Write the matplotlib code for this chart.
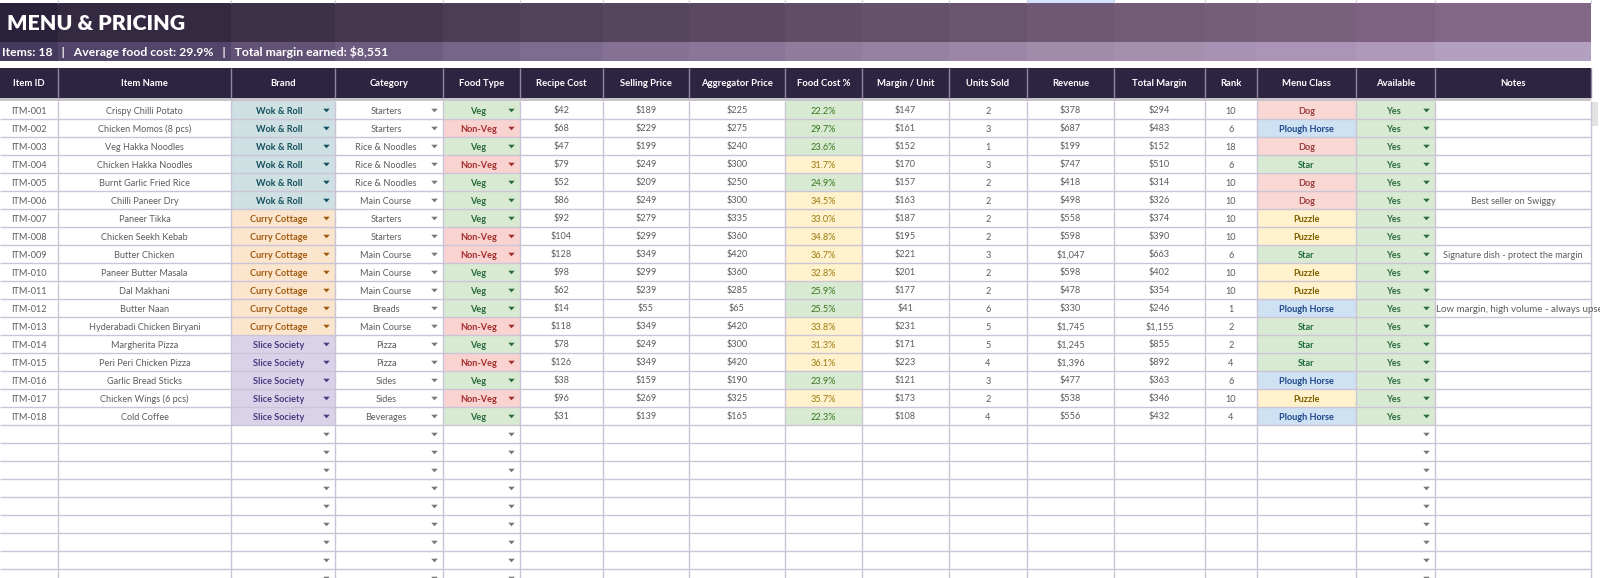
import matplotlib
matplotlib.use("Agg")
import matplotlib.pyplot as plt
from matplotlib.colors import LinearSegmentedColormap
from matplotlib.patches import Rectangle

plt.rcParams['font.family'] = ['Lato', 'DejaVu Sans']

headers = ["Item ID", "Item Name", "Brand", "Category", "Food Type", "Recipe Cost", "Selling Price",
           "Aggregator Price", "Food Cost %", "Margin / Unit", "Units Sold", "Revenue", "Total Margin",
           "Rank", "Menu Class", "Available", "Notes"]
item_names = ["Crispy Chilli Potato", "Chicken Momos (8 pcs)", "Veg Hakka Noodles", "Chicken Hakka Noodles",
              "Burnt Garlic Fried Rice", "Chilli Paneer Dry", "Paneer Tikka", "Chicken Seekh Kebab",
              "Butter Chicken", "Paneer Butter Masala", "Dal Makhani", "Butter Naan",
              "Hyderabadi Chicken Biryani", "Margherita Pizza", "Peri Peri Chicken Pizza",
              "Garlic Bread Sticks", "Chicken Wings (6 pcs)", "Cold Coffee"]
brands = ["Wok & Roll"] * 6 + ["Curry Cottage"] * 7 + ["Slice Society"] * 5
categories = ["Starters", "Starters", "Rice & Noodles", "Rice & Noodles", "Rice & Noodles", "Main Course",
              "Starters", "Starters", "Main Course", "Main Course", "Main Course", "Breads", "Main Course",
              "Pizza", "Pizza", "Sides", "Sides", "Beverages"]
food_types = ["Veg", "Non-Veg", "Veg", "Non-Veg", "Veg", "Veg", "Veg", "Non-Veg", "Non-Veg", "Veg", "Veg",
              "Veg", "Non-Veg", "Veg", "Non-Veg", "Veg", "Non-Veg", "Veg"]
recipe_cost = [42, 68, 47, 79, 52, 86, 92, 104, 128, 98, 62, 14, 118, 78, 126, 38, 96, 31]
selling_price = [189, 229, 199, 249, 209, 249, 279, 299, 349, 299, 239, 55, 349, 249, 349, 159, 269, 139]
aggregator_price = [225, 275, 240, 300, 250, 300, 335, 360, 420, 360, 285, 65, 420, 300, 420, 190, 325, 165]
food_cost = [22.2, 29.7, 23.6, 31.7, 24.9, 34.5, 33.0, 34.8, 36.7, 32.8, 25.9, 25.5, 33.8, 31.3, 36.1, 23.9, 35.7, 22.3]
margin_unit = [147, 161, 152, 170, 157, 163, 187, 195, 221, 201, 177, 41, 231, 171, 223, 121, 173, 108]
units_sold = [2, 3, 1, 3, 2, 2, 2, 2, 3, 2, 2, 6, 5, 5, 4, 3, 2, 4]
revenue = [378, 687, 199, 747, 418, 498, 558, 598, 1047, 598, 478, 330, 1745, 1245, 1396, 477, 538, 556]
total_margin = [294, 483, 152, 510, 314, 326, 374, 390, 663, 402, 354, 246, 1155, 855, 892, 363, 346, 432]
rank = [10, 6, 18, 6, 10, 10, 10, 10, 6, 10, 10, 1, 2, 2, 4, 6, 10, 4]
menu_class = ["Dog", "Plough Horse", "Dog", "Star", "Dog", "Dog", "Puzzle", "Puzzle", "Star", "Puzzle", "Puzzle",
              "Plough Horse", "Star", "Star", "Star", "Plough Horse", "Puzzle", "Plough Horse"]
notes = {5: "Best seller on Swiggy", 8: "Signature dish - protect the margin",
         11: "Low margin, high volume - always upsell"}

# column edges in pixels
edges = [0, 58, 231, 335, 443, 520, 603, 689, 785, 862, 949, 1027, 1114, 1205, 1257, 1356, 1435, 1591]
row_top = 101
row_h = 18
n_rows = 27

brand_style = {"Wok & Roll": ("#cfe0e3", "#134f5c"), "Curry Cottage": ("#fce5cd", "#a05a10"),
               "Slice Society": ("#d9d2e9", "#4a3a80")}
type_style = {"Veg": ("#d9ead3", "#2a6a3a"), "Non-Veg": ("#f9d3d0", "#a32e2e")}
class_style = {"Dog": ("#f9d7d3", "#993c3c"), "Plough Horse": ("#cfe2f3", "#1c4587"),
               "Star": ("#d9ead3", "#1f6b3a"), "Puzzle": ("#fff2cc", "#7f6000")}
grid = "#cbc3d6"
body = "#5c5c5c"
tri = [(-1, 0.55), (1, 0.55), (0, -0.55)]

fig = plt.figure(figsize=(16, 5.78), dpi=100)
ax = fig.add_axes([0, 0, 1, 1])
ax.set_xlim(0, 1600)
ax.set_ylim(578, 0)
ax.axis('off')


def cell(c, r, color):
    y = row_top + r * row_h
    ax.add_patch(Rectangle((edges[c], y), edges[c + 1] - edges[c], row_h, fc=color, ec='none', zorder=1))


def put(c, r, s, color=body, weight='normal', shift=0):
    x = (edges[c] + edges[c + 1]) / 2 + shift
    y = row_top + r * row_h + row_h / 2
    ax.text(x, y, s, color=color, fontsize=6.6, fontweight=weight, ha='center', va='center_baseline', zorder=4)


def arrow(c, r, color="#777777"):
    y = row_top + r * row_h + row_h / 2
    ax.scatter([edges[c + 1] - 9], [y], marker=tri, s=22, color=color, linewidths=0, zorder=4)


# title and subtitle bands, colour steps per column
title_map = LinearSegmentedColormap.from_list("t", ["#282038", "#4f4058", "#6d5872", "#86698a"])
sub_map = LinearSegmentedColormap.from_list("s", ["#43375c", "#7c6a8e", "#a08aaa", "#b6a2c4"])
for i in range(len(edges) - 1):
    mid = (edges[i] + edges[i + 1]) / 2 / 1591
    ax.add_patch(Rectangle((edges[i], 3), edges[i + 1] - edges[i], 38.5, fc=title_map(mid), ec='none', zorder=1))
    ax.add_patch(Rectangle((edges[i], 41.5), edges[i + 1] - edges[i], 19.5, fc=sub_map(mid), ec='none', zorder=1))
ax.text(7, 22, "MENU & PRICING", color="white", fontsize=15.4, fontweight='heavy', va='center_baseline', zorder=4)
ax.text(2, 51, "Items: 18   |   Average food cost: 29.9%   |   Total margin earned: $8,551", color="white",
        fontsize=8.8, fontweight='bold', va='center_baseline', zorder=4)

# bit of the row above the title
ax.add_patch(Rectangle((edges[11], 0), edges[12] - edges[11], 2.5, fc="#d3e3fd", ec='none', zorder=1))
ax.vlines(edges[1:], 0, 2.5, color=grid, lw=0.8, zorder=2)

# header
ax.add_patch(Rectangle((0, 68), edges[-1], 30, fc="#2d2442", ec='none', zorder=1))
ax.add_patch(Rectangle((0, 98), edges[-1], 3, fc="#c8c4cc", ec='none', zorder=1))
ax.vlines(edges[1:], 68, 98, color="#8f86a0", lw=1, zorder=2)
for c, h in enumerate(headers):
    ax.text((edges[c] + edges[c + 1]) / 2, 83, h, color="white", fontsize=6.8, fontweight='bold',
            ha='center', va='center_baseline', zorder=4)

# data rows
for r in range(18):
    put(0, r, "ITM-%03d" % (r + 1))
    put(1, r, item_names[r])
    cell(2, r, brand_style[brands[r]][0])
    put(2, r, brands[r], brand_style[brands[r]][1], 'bold', -4)
    arrow(2, r, brand_style[brands[r]][1])
    put(3, r, categories[r], shift=-3)
    arrow(3, r)
    cell(4, r, type_style[food_types[r]][0])
    put(4, r, food_types[r], type_style[food_types[r]][1], 'bold', -3)
    arrow(4, r, type_style[food_types[r]][1])
    put(5, r, "$%d" % recipe_cost[r])
    put(6, r, "$%d" % selling_price[r])
    put(7, r, "$%d" % aggregator_price[r])
    if food_cost[r] < 30:
        cell(8, r, "#d9ead3")
        put(8, r, "%.1f%%" % food_cost[r], "#38761d")
    else:
        cell(8, r, "#fff2cc")
        put(8, r, "%.1f%%" % food_cost[r], "#9a7b10")
    put(9, r, "$%d" % margin_unit[r])
    put(10, r, str(units_sold[r]))
    put(11, r, "${:,}".format(revenue[r]))
    put(12, r, "${:,}".format(total_margin[r]))
    put(13, r, str(rank[r]))
    cell(14, r, class_style[menu_class[r]][0])
    put(14, r, menu_class[r], class_style[menu_class[r]][1], 'bold')
    cell(15, r, "#d9ead3")
    put(15, r, "Yes", "#2a6a3a", 'bold', -2)
    arrow(15, r, "#2a6a3a")
    if r in notes:
        if len(notes[r]) > 36:
            # too long for the cell, sheet cuts it at the column edge
            y = row_top + r * row_h + row_h / 2
            t = ax.text(edges[16] + 1, y, notes[r], color=body, fontsize=7.0, va='center_baseline', zorder=4)
            t.set_clip_path(Rectangle((edges[16], y - 9), edges[17] - edges[16], 18, transform=ax.transData))
        else:
            put(16, r, notes[r])

# empty rows, dropdowns only
for r in range(18, n_rows):
    for c in [2, 3, 4, 15]:
        arrow(c, r)

# grid
bottom = row_top + n_rows * row_h
ax.vlines(edges[1:], row_top, bottom, color=grid, lw=1, zorder=3)
ax.hlines([row_top + r * row_h for r in range(1, n_rows + 1)], 0, edges[-1], color=grid, lw=1, zorder=3)

# scrollbar
ax.add_patch(Rectangle((1592, 102), 6, 24, fc="#e2e2e2", ec='none', zorder=2))

fig.savefig("out.png", dpi=100)
